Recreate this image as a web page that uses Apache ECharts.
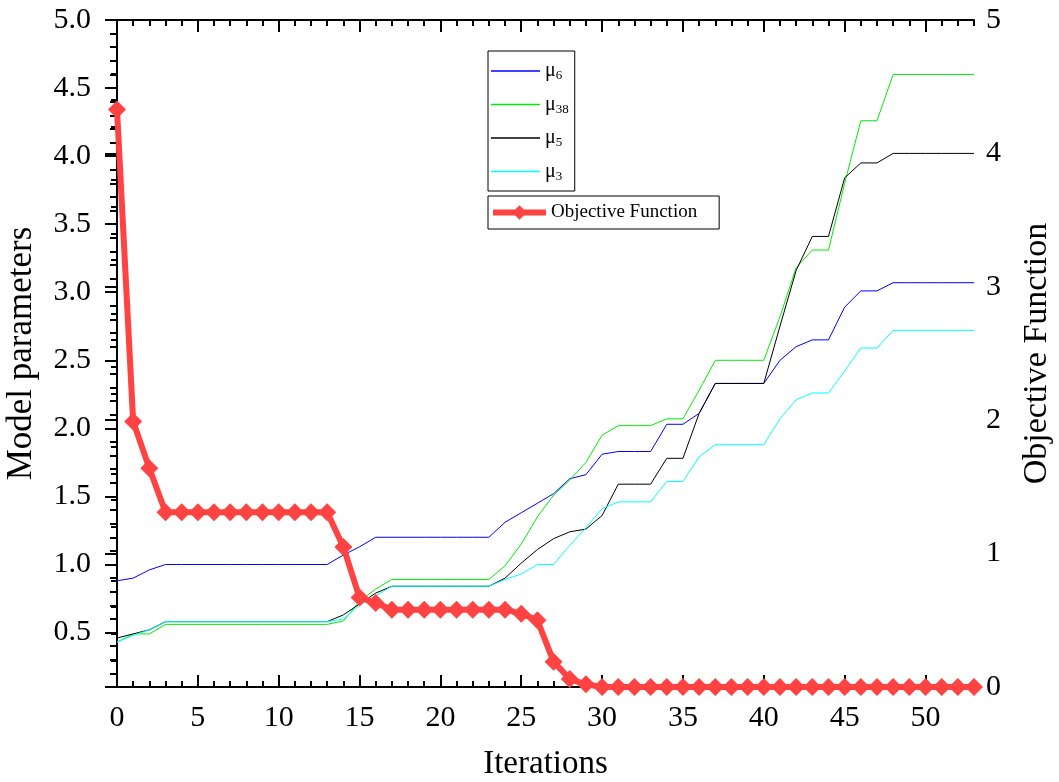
<!DOCTYPE html>
<html>
<head>
<meta charset="utf-8">
<script src="https://cdn.jsdelivr.net/npm/echarts@6/dist/echarts.min.js"></script>
<style>
  html, body { margin: 0; padding: 0; background: #fff; }
  #chart { width: 1059px; height: 782px; }
</style>
</head>
<body>
<div id="chart"></div>
<script>
// iterations 0..53
const iterations = [0,1,2,3,4,5,6,7,8,9,10,11,12,13,14,15,16,17,18,19,20,21,22,23,24,25,26,
  27,28,29,30,31,32,33,34,35,36,37,38,39,40,41,42,43,44,45,46,47,48,49,50,51,52,53]

// model parameters (left axis)
const mu6 = [0.88,0.90,0.96,1.00,1.00,1.00,1.00,1.00,1.00,1.00,1.00,1.00,1.00,1.00,1.07,1.13,
  1.20,1.20,1.20,1.20,1.20,1.20,1.20,1.20,1.31,1.38,1.45,1.52,1.63,1.66,1.81,1.83,1.83,1.83,
  2.03,2.03,2.11,2.33,2.33,2.33,2.33,2.50,2.60,2.65,2.65,2.89,3.01,3.01,3.07,3.07,3.07,3.07,3.07,3.07]
const mu38 = [0.43,0.49,0.49,0.56,0.56,0.56,0.56,0.56,0.56,0.56,0.56,0.56,0.56,0.56,0.585,0.73,
  0.82,0.89,0.89,0.89,0.89,0.89,0.89,0.89,0.99,1.15,1.35,1.51,1.62,1.75,1.95,2.02,2.02,2.02,
  2.07,2.07,2.28,2.50,2.50,2.50,2.50,2.82,3.18,3.31,3.31,3.80,4.26,4.26,4.60,4.60,4.60,4.60,4.60,4.60]
const mu5 = [0.46,0.49,0.52,0.58,0.58,0.58,0.58,0.58,0.58,0.58,0.58,0.58,0.58,0.58,0.63,0.71,
  0.79,0.84,0.84,0.84,0.84,0.84,0.84,0.84,0.90,1.01,1.11,1.19,1.24,1.26,1.36,1.59,1.59,1.59,
  1.78,1.78,2.11,2.33,2.33,2.33,2.33,2.75,3.16,3.41,3.41,3.84,3.95,3.95,4.02,4.02,4.02,4.02,4.02,4.02]
const mu3 = [0.43,0.48,0.52,0.58,0.58,0.58,0.58,0.58,0.58,0.58,0.58,0.58,0.58,0.58,0.60,0.70,
  0.77,0.84,0.84,0.84,0.84,0.84,0.84,0.84,0.89,0.93,1.00,1.00,1.14,1.27,1.41,1.46,1.46,1.46,
  1.61,1.61,1.79,1.88,1.88,1.88,1.88,2.07,2.21,2.26,2.26,2.42,2.59,2.59,2.72,2.72,2.72,2.72,2.72,2.72]

// objective function (right axis)
const objective = [4.33,1.99,1.64,1.31,1.31,1.31,1.31,1.31,1.31,1.31,1.31,1.31,1.31,1.31,1.05,0.67,
  0.63,0.58,0.58,0.58,0.58,0.58,0.58,0.58,0.58,0.55,0.50,0.19,0.06,0.02,0,0,0,0,
  0,0,0,0,0,0,0,0,0,0,0,0,0,0,0,0,0,0,0,0]

// tick labels
const xTicks = [0,5,10,15,20,25,30,35,40,45,50]
const yLeftTicks = [0.5,1.0,1.5,2.0,2.5,3.0,3.5,4.0,4.5,5.0]
const yRightTicks = [0,1,2,3,4,5]

const xMinor = iterations.filter(v => v % 5 !== 0)
const yLeftMinor = [0.2,0.3,0.4,0.6,0.7,0.8,0.9,1.1,1.2,1.3,1.4,1.6,1.7,1.8,1.9,2.1,2.2,2.3,2.4,
  2.6,2.7,2.8,2.9,3.1,3.2,3.3,3.4,3.6,3.7,3.8,3.9,4.1,4.2,4.3,4.4,4.6,4.7,4.8,4.9]
const yRightMinor = [0.2,0.4,0.6,0.8,1.2,1.4,1.6,1.8,2.2,2.4,2.6,2.8,3.2,3.4,3.6,3.8,4.2,4.4,4.6,4.8]

const FONT = '"Liberation Serif", "Times New Roman", serif'
const pair = ys => iterations.map((x, i) => [x, ys[i]])

const chart = echarts.init(document.getElementById('chart'))

const line = { lineStyle: { color: '#000', width: 2 } }
const noLabel = { show: false }

const xBase = { type: 'value', min: 0, max: 53, splitLine: { show: false } }
const yLeftBase = { type: 'value', min: 0.1, max: 5.0, position: 'left', splitLine: { show: false } }
const yRightBase = { type: 'value', min: 0, max: 5, position: 'right', splitLine: { show: false } }

const muSeries = (name, data, color) => ({
  name, type: 'line', data: pair(data), xAxisIndex: 0, yAxisIndex: 0,
  symbol: 'none', lineStyle: { color, width: 1 }, itemStyle: { color }, z: 2
})

const option = {
  animation: false,
  backgroundColor: '#fff',
  grid: { left: 117, right: 85, top: 20, bottom: 95, outerBoundsMode: 'none', containLabel: false },
  legend: [
    {
      data: ['μ6', 'μ38', 'μ5', 'μ3'].map(name => ({ name, icon: 'rect' })),
      orient: 'vertical', left: 488, top: 51,
      padding: [10, 6, 8, 3],
      borderColor: '#000', borderWidth: 1,
      itemWidth: 49, itemHeight: 1.5, itemGap: 12,
      formatter: name => '{m|μ}{s|' + name.slice(1) + '}',
      textStyle: {
        fontFamily: FONT, color: '#000',
        rich: {
          m: { fontFamily: FONT, fontSize: 20, color: '#000' },
          s: { fontFamily: FONT, fontSize: 13, color: '#000', padding: [10, 0, 0, 0] }
        }
      }
    },
    {
      data: ['Objective Function'],
      left: 488, top: 196,
      padding: [7, 22, 7, 2],
      borderColor: '#000', borderWidth: 1,
      itemWidth: 53, itemHeight: 18,
      lineStyle: { width: 6, color: '#ff4242' },
      textStyle: { fontFamily: FONT, fontSize: 19, color: '#000' }
    }
  ],
  xAxis: [
    {
      ...xBase, position: 'bottom',
      name: 'Iterations', nameLocation: 'middle', nameGap: 61,
      nameTextStyle: { fontFamily: FONT, fontSize: 33, color: '#000' },
      axisLine: line,
      axisTick: { inside: true, length: 12, customValues: xTicks, lineStyle: { color: '#000', width: 2 } },
      axisLabel: { customValues: xTicks, margin: 16, fontFamily: FONT, fontSize: 30, color: '#000' }
    },
    {
      ...xBase, position: 'bottom',
      axisLine: { show: false },
      axisTick: { inside: true, length: 6, customValues: xMinor, lineStyle: { color: '#000', width: 2 } },
      axisLabel: noLabel
    },
    {
      ...xBase, position: 'top',
      axisLine: line,
      axisTick: { inside: true, length: 12, customValues: xTicks, lineStyle: { color: '#000', width: 2 } },
      axisLabel: noLabel
    },
    {
      ...xBase, position: 'top',
      axisLine: { show: false },
      axisTick: { inside: true, length: 6, customValues: xMinor, lineStyle: { color: '#000', width: 2 } },
      axisLabel: noLabel
    }
  ],
  yAxis: [
    {
      ...yLeftBase,
      name: 'Model parameters', nameLocation: 'middle', nameGap: 78,
      nameTextStyle: { fontFamily: FONT, fontSize: 35, color: '#000' },
      axisLine: line,
      axisTick: { inside: false, length: 12, customValues: yLeftTicks, lineStyle: { color: '#000', width: 2 } },
      axisLabel: {
        customValues: yLeftTicks, margin: 26, fontFamily: FONT, fontSize: 30, color: '#000',
        formatter: v => v.toFixed(1)
      }
    },
    {
      ...yLeftBase,
      axisLine: { show: false },
      axisTick: { inside: false, length: 7, customValues: yLeftMinor, lineStyle: { color: '#000', width: 2 } },
      axisLabel: noLabel
    },
    {
      ...yRightBase,
      name: 'Objective Function', nameLocation: 'middle', nameGap: 46,
      nameTextStyle: { fontFamily: FONT, fontSize: 34, color: '#000' },
      axisLine: line,
      axisTick: { inside: true, length: 12, customValues: yRightTicks, lineStyle: { color: '#000', width: 2 } },
      axisLabel: { customValues: yRightTicks, margin: 12, fontFamily: FONT, fontSize: 30, color: '#000' }
    },
    {
      ...yRightBase,
      axisLine: { show: false },
      axisTick: { inside: true, length: 6, customValues: yRightMinor, lineStyle: { color: '#000', width: 2 } },
      axisLabel: noLabel
    }
  ],
  series: [
    muSeries('μ6', mu6, '#0000ff'),
    muSeries('μ38', mu38, '#00ee00'),
    muSeries('μ5', mu5, '#000000'),
    muSeries('μ3', mu3, '#00ffff'),
    {
      name: 'Objective Function', type: 'line', data: pair(objective),
      xAxisIndex: 0, yAxisIndex: 2,
      symbol: 'diamond', symbolSize: 18, showAllSymbol: true,
      lineStyle: { color: '#ff4242', width: 6 },
      itemStyle: { color: '#ff4242' },
      z: 5
    }
  ]
}

chart.setOption(option)
</script>
</body>
</html>
